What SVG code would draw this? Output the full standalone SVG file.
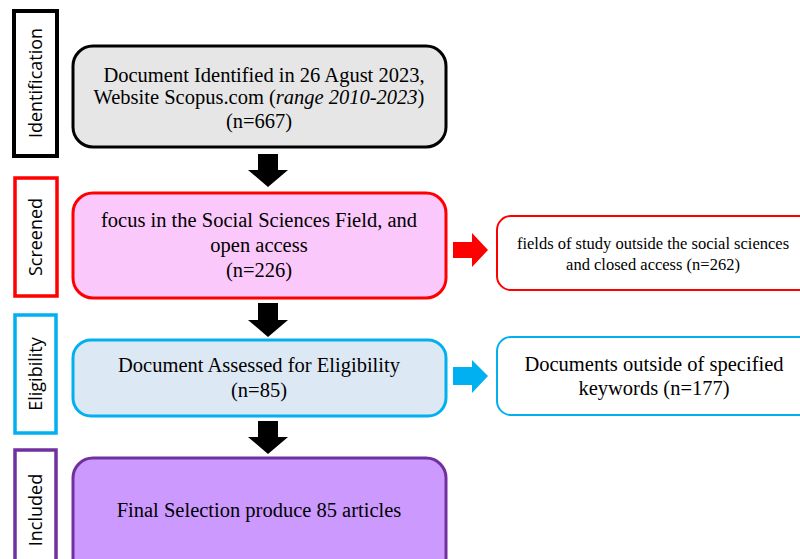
<svg xmlns="http://www.w3.org/2000/svg" width="800" height="559" viewBox="0 0 800 559">
<style>
.t{font-family:"Liberation Serif","Times New Roman",serif;fill:#000;text-anchor:middle;font-size:20.5px}
.s{font-family:"Open Sans","Liberation Sans",sans-serif;font-size:18px;fill:#000;text-anchor:middle}
</style>
<rect width="800" height="559" fill="#fff"/>
<g id="stage-identification"><rect x="14" y="11" width="43" height="145" fill="#fff" stroke="#000" stroke-width="4"/><text class="s" transform="translate(42,83) rotate(-90)">Identification</text></g>
<g id="stage-screened"><rect x="15" y="178" width="42" height="118" fill="#fff" stroke="#ff0000" stroke-width="3.5"/><text class="s" transform="translate(42,237) rotate(-90)">Screened</text></g>
<g id="stage-eligibility"><rect x="15" y="315" width="41" height="118" fill="#fff" stroke="#00b0f0" stroke-width="3.5"/><text class="s" transform="translate(42,374) rotate(-90)">Eligibility</text></g>
<g id="stage-included"><rect x="15" y="450" width="41" height="120" fill="#fff" stroke="#7030a0" stroke-width="3.5"/><text class="s" transform="translate(42,510) rotate(-90)">Included</text></g>

<g id="box-identified"><rect x="73" y="46" width="373" height="101" rx="20" fill="#e6e6e6" stroke="#000" stroke-width="3"/>
<text class="t" x="264" y="82">Document Identified in 26 Agust 2023,</text>
<text class="t" x="259" y="104">Website Scopus.com (<tspan font-style="italic">range 2010-2023</tspan>)</text>
<text class="t" x="259" y="128">(n=667)</text></g>

<g id="box-screened"><rect x="73" y="193" width="373" height="105" rx="20" fill="#fbc8fb" stroke="#ff0000" stroke-width="3"/>
<text class="t" x="259" y="227">focus in the Social Sciences Field, and</text>
<text class="t" x="259" y="252">open access</text>
<text class="t" x="259" y="277">(n=226)</text></g>

<g id="box-eligibility"><rect x="73" y="340" width="373" height="76" rx="18" fill="#dde8f5" stroke="#00b0f0" stroke-width="3"/>
<text class="t" x="259" y="372">Document Assessed for Eligibility</text>
<text class="t" x="259" y="397">(n=85)</text></g>

<g id="box-included"><rect x="73" y="458" width="373" height="120" rx="20" fill="#cc99ff" stroke="#7030a0" stroke-width="3"/>
<text class="t" x="259" y="517">Final Selection produce 85 articles</text></g>

<g id="box-excluded-screen"><rect x="497" y="216" width="320" height="74" rx="14" fill="#fff" stroke="#ff0000" stroke-width="2"/>
<text class="t" style="font-size:16.5px" x="653" y="249">fields of study outside the social sciences</text>
<text class="t" style="font-size:16.5px" x="653" y="270">and closed access (n=262)</text></g>

<g id="box-excluded-elig"><rect x="497" y="337" width="320" height="78" rx="14" fill="#fff" stroke="#00b0f0" stroke-width="2"/>
<text class="t" x="654" y="371">Documents outside of specified</text>
<text class="t" x="654" y="395">keywords (n=177)</text></g>

<g id="connectors">
<polygon points="258,154 278,154 278,170 288,170 268,187 248,170 258,170" fill="#000"/>
<polygon points="258,303 278,303 278,320 288,320 268,337 248,320 258,320" fill="#000"/>
<polygon points="258,421 278,421 278,437 288,437 268,454 248,437 258,437" fill="#000"/>
<polygon points="453,242 472,242 472,233 488,250 472,267 472,258 453,258" fill="#ff0000"/>
<polygon points="453,367 472,367 472,360 488,376 472,393 472,385 453,385" fill="#00b0f0"/>
</g>
</svg>
